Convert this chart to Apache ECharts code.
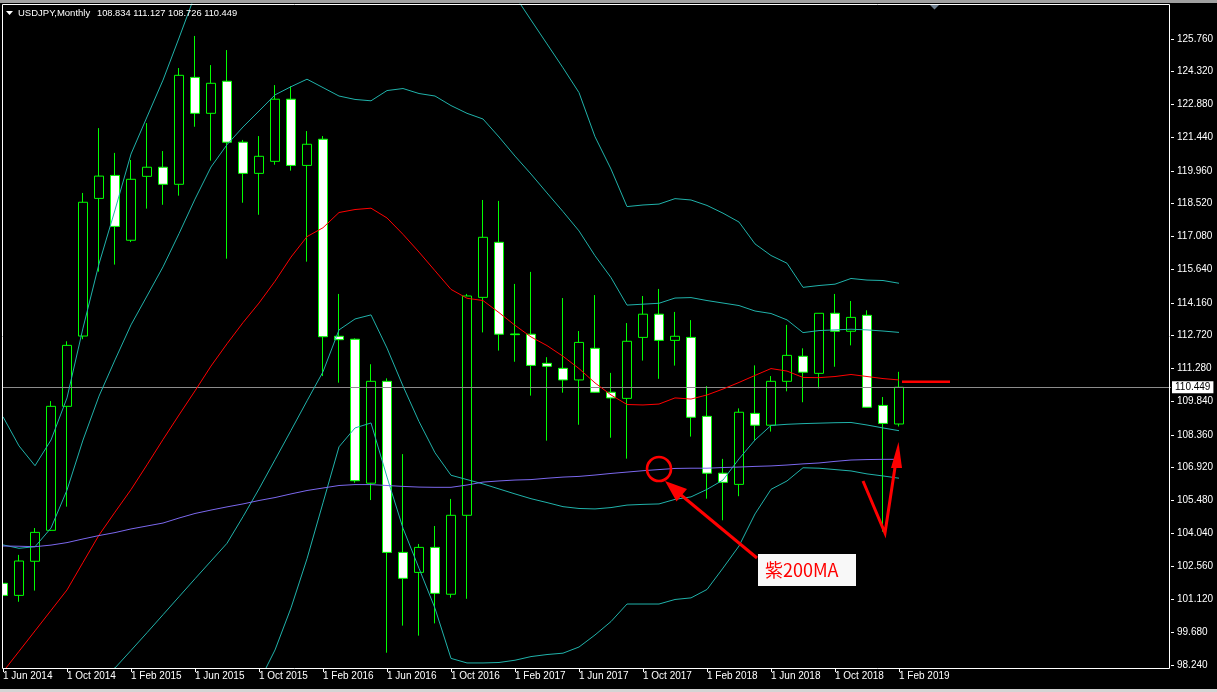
<!DOCTYPE html>
<html><head><meta charset="utf-8">
<script src="https://cdn.jsdelivr.net/npm/echarts@6/dist/echarts.min.js"></script>
<style>html,body{margin:0;padding:0;background:#000;overflow:hidden}#c{width:1217px;height:692px}</style>
</head><body><div id="c"></div>
<script>
// ---------- data ----------
const months = ['1 Jun 2014','1 Jul 2014','1 Aug 2014','1 Sep 2014','1 Oct 2014','1 Nov 2014','1 Dec 2014',
 '1 Jan 2015','1 Feb 2015','1 Mar 2015','1 Apr 2015','1 May 2015','1 Jun 2015','1 Jul 2015','1 Aug 2015','1 Sep 2015','1 Oct 2015','1 Nov 2015','1 Dec 2015',
 '1 Jan 2016','1 Feb 2016','1 Mar 2016','1 Apr 2016','1 May 2016','1 Jun 2016','1 Jul 2016','1 Aug 2016','1 Sep 2016','1 Oct 2016','1 Nov 2016','1 Dec 2016',
 '1 Jan 2017','1 Feb 2017','1 Mar 2017','1 Apr 2017','1 May 2017','1 Jun 2017','1 Jul 2017','1 Aug 2017','1 Sep 2017','1 Oct 2017','1 Nov 2017','1 Dec 2017',
 '1 Jan 2018','1 Feb 2018','1 Mar 2018','1 Apr 2018','1 May 2018','1 Jun 2018','1 Jul 2018','1 Aug 2018','1 Sep 2018','1 Oct 2018','1 Nov 2018','1 Dec 2018',
 '1 Jan 2019','1 Feb 2019'];

const opens = [101.83,101.30,102.80,104.16,109.61,112.70,118.75,119.76,116.91,119.72,
 120.12,119.37,124.07,122.49,123.90,121.22,119.85,120.38,123.11,120.20,
 121.35,112.69,112.56,106.23,110.71,103.19,102.31,103.41,101.35,104.82,
 114.40,116.82,112.79,112.78,111.50,111.28,110.77,112.16,110.23,109.96,
 112.64,113.66,112.51,112.64,109.17,106.67,106.18,109.30,108.78,110.71,
 111.81,111.06,113.70,112.91,113.61,109.65,108.834];
const closes = [101.30,102.81,104.07,109.61,112.29,118.58,119.73,117.52,119.59,120.12,
 119.37,124.16,122.49,123.81,121.22,119.85,120.60,123.11,120.20,121.13,
 112.67,112.54,106.34,110.71,103.19,102.05,103.41,101.39,104.82,114.46,
 117.04,112.78,112.76,111.41,111.37,110.77,112.42,110.23,109.98,112.47,
 113.66,112.51,112.69,109.13,106.67,106.27,109.35,108.78,110.71,111.85,
 111.11,113.70,112.91,113.52,109.57,108.86,110.449];
const lows = [101.06,101.02,101.51,104.14,105.20,112.56,115.53,115.84,116.83,118.30,
 118.47,118.87,121.90,120.41,116.10,118.56,118.03,120.23,119.97,115.97,
 110.94,110.65,106.25,105.49,98.78,99.97,99.53,100.07,101.20,101.15,
 112.86,112.06,111.57,110.08,108.10,110.21,108.80,110.20,108.23,107.31,
 111.62,110.82,111.40,108.28,105.55,104.60,105.66,108.12,108.50,110.27,
 109.79,110.40,111.35,112.29,109.55,104.10,108.726];
const highs = [102.81,103.08,104.26,109.84,112.47,118.99,121.84,120.75,120.44,122.06,
 120.83,124.48,125.89,124.61,125.27,121.32,121.49,123.73,123.68,121.71,
 121.49,114.55,112.60,111.46,110.84,107.51,103.56,104.35,105.54,114.55,
 118.68,118.64,114.99,115.52,111.77,114.37,112.92,114.50,111.08,113.27,
 114.46,114.77,113.76,113.40,110.50,107.30,109.52,111.41,110.94,113.19,
 112.16,113.70,114.55,114.24,113.83,110.02,111.127];

const ma200 = [103.47,103.46,103.44,103.51,103.62,103.78,103.93,104.06,104.22,104.35,
 104.48,104.70,104.90,105.05,105.19,105.32,105.47,105.60,105.76,105.91,
 106.02,106.13,106.17,106.17,106.13,106.09,106.06,106.05,106.05,106.15,
 106.28,106.33,106.37,106.39,106.45,106.50,106.53,106.59,106.66,106.72,
 106.78,106.83,106.88,106.89,106.89,106.92,106.94,106.97,106.99,107.03,
 107.08,107.12,107.19,107.25,107.27,107.28,107.28];
const bbMid = [97.94,98.84,99.74,100.64,101.54,102.75,103.95,104.96,105.95,107.04,
 108.15,109.23,110.29,111.38,112.36,113.29,114.15,115.11,116.17,117.07,
 117.46,118.13,118.26,118.32,117.89,117.17,116.39,115.57,114.75,114.36,
 114.26,113.73,113.17,112.66,112.28,111.81,111.27,110.64,110.11,109.69,
 109.67,109.71,109.98,109.93,110.11,110.37,110.66,110.97,111.27,111.16,
 110.88,110.87,110.92,111.01,110.92,110.83,110.77];
const bbUp1 = [103.52,103.37,103.44,104.26,105.93,108.13,110.06,111.65,113.19,114.46,
 115.74,117.20,118.72,120.13,121.11,121.89,122.59,123.30,123.66,123.99,
 123.62,123.25,123.10,123.04,123.49,123.58,123.36,123.25,122.83,122.49,
 122.24,121.45,120.61,119.82,118.99,118.17,117.32,116.23,115.27,114.06,
 114.10,114.14,114.37,114.39,114.26,114.15,114.04,113.80,113.69,113.41,
 112.85,112.94,112.97,113.00,112.97,112.92,112.86];
const bbUp2 = [109.15,107.87,107.00,108.13,109.98,113.05,115.87,118.24,120.70,122.33,
 123.95,125.80,127.69,128.88,129.85,130.50,131.03,131.47,131.16,130.90,
 129.76,128.60,128.30,128.20,129.10,129.98,130.33,130.93,130.92,130.64,
 130.22,129.16,127.65,126.59,125.54,124.49,123.40,121.46,120.04,118.39,
 118.46,118.50,118.74,118.68,118.44,118.10,117.71,116.75,116.24,115.90,
 114.84,114.92,114.98,115.23,115.16,115.14,115.02];
const bbLo1 = [92.37,94.32,96.05,97.03,97.14,97.36,97.85,98.11,98.88,99.66,
 100.45,101.24,102.03,102.81,103.59,104.76,105.98,107.26,108.55,109.85,
 111.13,112.97,113.45,113.63,112.17,110.50,108.94,107.57,106.58,106.39,
 106.20,105.98,105.76,105.55,105.38,105.20,105.12,105.10,105.16,105.27,
 105.30,105.32,105.52,105.63,105.96,106.37,107.30,108.13,108.77,108.82,
 108.85,108.87,108.89,108.90,108.79,108.66,108.54];
const bbLo2 = [86.73,89.82,92.49,93.16,93.10,92.44,92.04,91.69,91.21,91.78,
 92.35,92.66,92.88,93.89,94.90,96.09,97.49,98.90,100.75,102.91,
 105.37,107.83,108.66,108.88,106.50,104.25,102.49,100.73,98.53,98.33,
 98.33,98.35,98.45,98.61,98.70,98.76,99.03,99.56,100.15,100.92,
 100.92,100.92,101.12,101.19,101.56,102.50,103.47,104.88,105.96,106.33,
 106.91,106.89,106.83,106.77,106.64,106.55,106.45];

const yTickValues = [98.24,99.68,101.12,102.56,104.04,105.48,106.92,108.36,109.84,111.28,
 112.72,114.16,115.64,117.08,118.52,119.96,121.44,122.88,124.32,125.76];
const lastPrice = 110.449;
const symbolTitle = 'USDJPY,Monthly';
const titleValues = '108.834 111.127 108.726 110.449';
const noteText = '紫200MA';
const futureSlots = 17;

// ---------- chart ----------
const chart = echarts.init(document.getElementById('c'), null, {renderer:'canvas', width:1217, height:692});
const axisCats = months.concat(Array.from({length: futureSlots}, (_, i) => 'future' + i));
const isLabeled = (idx) => idx % 4 === 0 && idx < months.length;
const candleData = opens.map((o, i) => [o, closes[i], lows[i], highs[i]]);
const FONT = 'Liberation Sans';

function lineSeries(name, data, color) {
  return {name, type:'line', data, symbol:'none', showSymbol:false, smooth:false,
    lineStyle:{color, width:1}, z:5, silent:true, animation:false, clip:true};
}

const option = {
  backgroundColor:'#000000',
  animation:false,
  grid:{left:3, right:46, top:4, bottom:24, containLabel:false},
  xAxis:{type:'category', data:axisCats, boundaryGap:false,
    axisLine:{show:false},
    axisTick:{show:true, interval:(i)=>isLabeled(i), length:4, lineStyle:{color:'#ffffff'}},
    axisLabel:{interval:(i)=>isLabeled(i), color:'#ffffff', fontFamily:FONT, fontSize:10, align:'left', margin:3},
    splitLine:{show:false}},
  yAxis:{type:'value', position:'right', min:98.108, max:127.295,
    axisLine:{show:false},
    axisTick:{show:true, length:3, customValues:yTickValues, lineStyle:{color:'#ffffff'}},
    axisLabel:{customValues:yTickValues, color:'#ffffff', fontFamily:FONT, fontSize:10, margin:6,
      formatter:(v)=>Number(v).toFixed(3)},
    splitLine:{show:false}},
  series:[
    {name:'USDJPY', type:'candlestick', data:candleData, barWidth:9, z:2, clip:true,
      itemStyle:{color:'#000000', color0:'#ffffff', borderColor:'#00ff00', borderColor0:'#00ff00', borderWidth:1},
      markLine:{silent:true, symbol:['none','none'], animation:false,
        data:[{yAxis:lastPrice}],
        lineStyle:{color:'#8c8c8c', width:1, type:'solid'},
        label:{show:true, position:'end', formatter:()=>lastPrice.toFixed(3), backgroundColor:'#ffffff',
          color:'#000000', fontFamily:FONT, fontSize:10, padding:[1,3,1,3], distance:1}}},
    lineSeries('BB +2', bbUp2, '#20b2aa'),
    lineSeries('BB +1', bbUp1, '#20b2aa'),
    lineSeries('BB -1', bbLo1, '#20b2aa'),
    lineSeries('BB -2', bbLo2, '#20b2aa'),
    lineSeries('MA20', bbMid, '#ff0000'),
    lineSeries('MA200', ma200, '#7b68ee')
  ],
  graphic:[
    {type:'rect', silent:true, z:99, shape:{x:0, y:4, width:2, height:665}, style:{fill:'#000000'}},
    {type:'rect', silent:true, z:100, shape:{x:0, y:0, width:1217, height:3}, style:{fill:'#a0a0a0'}},
    {type:'rect', silent:true, z:100, shape:{x:0, y:689, width:1217, height:3}, style:{fill:'#d4d4d4'}},
    {type:'rect', silent:true, z:100, shape:{x:2.5, y:4.5, width:1167, height:664}, style:{fill:null, stroke:'#ffffff', lineWidth:1}},
    {type:'polygon', silent:true, z:100, shape:{points:[[6,11],[13,11],[9.5,15]]}, style:{fill:'#ffffff'}},
    {type:'text', silent:true, z:100, style:{text:symbolTitle, x:18, y:13.5, fill:'#ffffff', font:'9.5px "Liberation Sans"', textVerticalAlign:'middle', verticalAlign:'middle'}},
    {type:'text', silent:true, z:100, style:{text:titleValues, x:97, y:13.5, fill:'#ffffff', font:'9.3px "Liberation Sans"', textVerticalAlign:'middle', verticalAlign:'middle'}},
    {type:'polygon', silent:true, z:100, shape:{points:[[930,5],[939,5],[934.5,9.5]]}, style:{fill:'#708090'}},
    // annotations (hand-drawn in the original)
    {type:'circle', silent:true, z:110, shape:{cx:659, cy:469, r:12}, style:{fill:null, stroke:'#ff0000', lineWidth:2.6}},
    {type:'line', silent:true, z:110, shape:{x1:757, y1:558, x2:681, y2:495}, style:{stroke:'#ff0000', lineWidth:3}},
    {type:'polygon', silent:true, z:110, shape:{points:[[665,481],[687,489],[676.5,501.5]]}, style:{fill:'#ff0000'}},
    {type:'rect', silent:true, z:110, shape:{x:758, y:554, width:98, height:32}, style:{fill:'#f8f8f8'}},
    {type:'text', silent:true, z:111, style:{text:noteText, x:765, y:570, fill:'#ff0000', font:'18px "Noto Sans CJK JP"', textVerticalAlign:'middle', verticalAlign:'middle'}},
    {type:'polyline', silent:true, z:110, shape:{points:[[863,481],[885,533],[895.5,464]]}, style:{stroke:'#ff0000', lineWidth:3, fill:null}},
    {type:'polygon', silent:true, z:110, shape:{points:[[898.5,442],[891,468],[902,468]]}, style:{fill:'#ff0000'}},
    {type:'line', silent:true, z:110, shape:{x1:902, y1:381.7, x2:950, y2:381.7}, style:{stroke:'#ff0000', lineWidth:2.6}}
  ]
};
chart.setOption(option);
</script>
</body></html>
